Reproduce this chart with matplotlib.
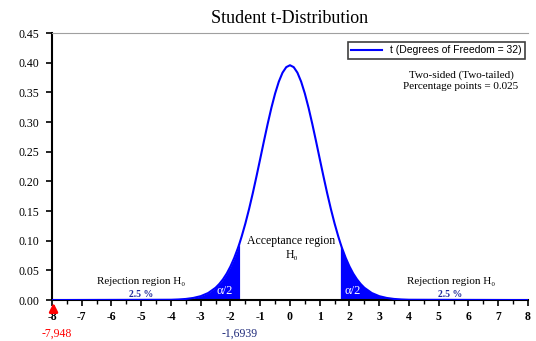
import matplotlib.pyplot as plt
import matplotlib.ticker as mticker

plt.rcParams['axes.unicode_minus'] = False

# t-distribution (32 d.o.f.) density
t_x = [-8.0, -4.0, -3.75, -3.5, -3.25, -3.0, -2.75, -2.5, -2.375, -2.25, -2.125, -2.0,
       -1.875, -1.75, -1.6939, -1.625, -1.5, -1.375, -1.25, -1.125, -1.0, -0.875, -0.75,
       -0.625, -0.5, -0.375, -0.25, -0.125, 0.0, 0.125, 0.25, 0.375, 0.5, 0.625, 0.75,
       0.875, 1.0, 1.125, 1.25, 1.375, 1.5, 1.625, 1.6939, 1.75, 1.875, 2.0, 2.125, 2.25,
       2.375, 2.5, 2.75, 3.0, 3.25, 3.5, 3.75, 4.0, 8.0]
t_y = [0.0, 0.0005, 0.0010, 0.0019, 0.0036, 0.0066, 0.0119, 0.0208, 0.0272, 0.0351, 0.0448, 0.0567,
       0.0709, 0.0876, 0.0960, 0.1070, 0.1290, 0.1535, 0.1802, 0.2087, 0.2382, 0.2680, 0.2969,
       0.3240, 0.3481, 0.3682, 0.3833, 0.3926, 0.3958, 0.3926, 0.3833, 0.3682, 0.3481, 0.3240, 0.2969,
       0.2680, 0.2382, 0.2087, 0.1802, 0.1535, 0.1290, 0.1070, 0.0960, 0.0876, 0.0709, 0.0567, 0.0448, 0.0351,
       0.0272, 0.0208, 0.0119, 0.0066, 0.0036, 0.0019, 0.0010, 0.0005, 0.0]
t_crit = 1.6939
t_stat = -7.948
x_ticks = list(range(-8, 9))
y_ticks = [0.0, 0.05, 0.10, 0.15, 0.20, 0.25, 0.30, 0.35, 0.40, 0.45]

serif = ['Liberation Serif', 'DejaVu Serif']
blue = '#0000FF'

fig = plt.figure(figsize=(5.36, 3.41), dpi=100)
ax = fig.add_axes([0.097, 0.12, 0.888, 0.783])

ax.plot(t_x, t_y, color=blue, lw=1.5, label='t (Degrees of Freedom = 32)', zorder=3)
ax.fill_between(t_x, t_y, 0, where=[x <= -t_crit for x in t_x], color=blue, lw=0)
ax.fill_between(t_x, t_y, 0, where=[x >= t_crit for x in t_x], color=blue, lw=0)

ax.set_xlim(-8, 8)
ax.set_ylim(0, 0.45)
ax.set_xticks(x_ticks)
ax.xaxis.set_minor_locator(mticker.MultipleLocator(0.5))
ax.set_yticks(y_ticks)
ax.yaxis.set_major_formatter(mticker.FormatStrFormatter('%.2f'))

for lab in ax.get_xticklabels():
    lab.set_family(serif)
    lab.set_fontweight('bold')
    lab.set_fontsize(8.5)
for lab in ax.get_yticklabels():
    lab.set_family(serif)
    lab.set_fontsize(8.5)

ax.tick_params(axis='x', which='major', direction='out', length=4, width=1.2, pad=4)
ax.tick_params(axis='x', which='minor', direction='out', length=3, width=1)
ax.tick_params(axis='y', direction='out', length=4, width=1.2, pad=5)

ax.spines['left'].set_linewidth(1.5)
ax.spines['bottom'].set_linewidth(1.5)
ax.spines['right'].set_visible(False)
ax.spines['top'].set_color('#A0A0A0')

ax.set_title('Student t-Distribution', family=serif, fontsize=13, pad=7)

leg = ax.legend(loc='upper right', bbox_to_anchor=(1.005, 0.985), fancybox=False,
                edgecolor='#404040', framealpha=1, handlelength=3,
                borderpad=0.3, prop={'family': 'Liberation Sans', 'size': 7.5})
leg.get_frame().set_linewidth(1.2)

ax.text(5.75, 0.37, 'Two-sided (Two-tailed)\nPercentage points = 0.025', family=serif,
        fontsize=8, ha='center', va='center', linespacing=1.2)
ax.text(0.05, 0.088, 'Acceptance region\nH\u2080', family=serif, fontsize=8.5,
        ha='center', va='center', linespacing=1.2)
ax.text(-5.0, 0.032, 'Rejection region H\u2080', family=serif, fontsize=8,
        ha='center', va='center')
ax.text(-5.0, 0.010, '2.5 %', family=serif, fontsize=7, color='#1F2A9A',
        fontweight='bold', ha='center', va='center')
ax.text(5.4, 0.032, 'Rejection region H\u2080', family=serif, fontsize=8,
        ha='center', va='center')
ax.text(5.4, 0.010, '2.5 %', family=serif, fontsize=7, color='#1F2A9A',
        fontweight='bold', ha='center', va='center')
ax.text(-2.2, 0.016, '\u03b1/2', family=serif, fontsize=9, color='white',
        ha='center', va='center', zorder=4)
ax.text(2.1, 0.016, '\u03b1/2', family=serif, fontsize=9, color='white',
        ha='center', va='center', zorder=4)

ax.annotate('', xy=(t_stat, 0.0), xytext=(t_stat, -0.026),
            arrowprops=dict(arrowstyle='-|>', color='red', lw=2, mutation_scale=12),
            annotation_clip=False)
ax.text(t_stat + 0.1, -0.057, '-7,948', family=serif, fontsize=8.5, color='red',
        ha='center', va='center', clip_on=False)
ax.text(-t_crit, -0.057, '-1,6939', family=serif, fontsize=8.5, color='#1F2A7A',
        ha='center', va='center', clip_on=False)

plt.savefig('out.png', dpi=100)
